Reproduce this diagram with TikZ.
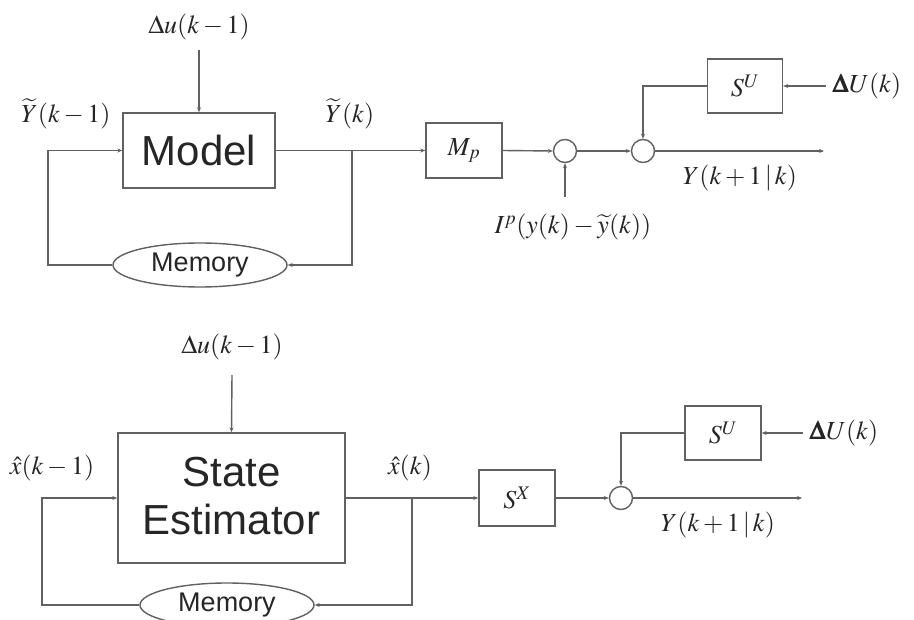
\documentclass[tikz,border=0pt]{standalone}
\usepackage{amsmath}
\usepackage{mathptmx}
\usepackage{fontspec}
\setsansfont{Liberation Sans}
\usetikzlibrary{arrows.meta,shapes.geometric}
\begin{document}
\begin{tikzpicture}[x=1pt,y=-1pt,
  line/.style={draw=black!62,line width=1.4pt},
  arr/.style={line,-{Stealth[length=5pt,width=4pt]}},
  blk/.style={draw=black!62,line width=1.4pt,rectangle,inner sep=0pt},
  sumc/.style={draw=black!62,line width=1.4pt,circle,minimum size=23pt,inner sep=0pt},
  mem/.style={draw=black!62,line width=1.4pt,ellipse,minimum width=174pt,minimum height=44pt,inner sep=0pt,font=\sffamily\fontsize{27}{30}\selectfont,text=black!85},
  lbl/.style={inner sep=0pt,text=black!85,font=\fontsize{26}{30}\selectfont},
  big/.style={font=\sffamily\fontsize{42}{50}\selectfont,text=black!85}]
\useasboundingbox (0,0) rectangle (914,620);
\fill[white] (0,0) rectangle (914,620);

% ---------- top diagram ----------
\node[blk,big,minimum width=152pt,minimum height=75pt] (model) at (199,150.5) {Model};
\node[mem] (mem1) at (200,265) {Memory};
\node[blk,minimum width=76pt,minimum height=55pt,lbl] (mp) at (464,150.5) {$M_p$};
\node[sumc] (s1) at (565,151) {};
\node[sumc] (s2) at (643,151) {};
\node[blk,minimum width=75pt,minimum height=54pt,lbl] (su1) at (745,86) {$S^{U}$};

\node[lbl] (du1) at (199,27) {$\Delta u(k-1)$};
\node[lbl] (yk1) at (66,114) {$\widetilde{Y}(k-1)$};
\node[lbl] (yk) at (350,114) {$\widetilde{Y}(k)$};
\node[lbl] (ip) at (573,227) {$I^{p}(y(k)-\widetilde{y}(k))$};
\node[lbl,anchor=west] (dU1) at (833,86) {$\pmb{\Delta}U(k)$};
\node[lbl] (yo1) at (740,178) {$Y(k+1\,|\,k)$};

\coordinate (du1a) at (199,50);
\coordinate (b1) at (352,150.5);
\coordinate (ipa) at (565,197);
\coordinate (out1) at (824,151);
\coordinate (in1) at (826,86);

\draw[arr] (du1a) -- (model.north);
\draw[arr] (model.east) -- (mp.west);
\draw[arr] (b1) |- (mem1.east);
\draw[arr] (mem1.west) -| (48,150.5) -- (model.west);
\draw[arr] (mp.east) -- (s1.west);
\draw[arr] (ipa) -- (s1.south);
\draw[arr] (s1.east) -- (s2.west);
\draw[arr] (in1) -- (su1.east);
\draw[arr] (su1.west) -| (s2.north);
\draw[arr] (s2.east) -- (out1);

% ---------- bottom diagram ----------
\node[blk,minimum width=227pt,minimum height=130pt] (se) at (231.5,498) {};
\node[big,align=center] at (231.5,496) {State\\[-2pt]Estimator};
\node[mem] (mem2) at (227,605) {Memory};
\node[blk,minimum width=76pt,minimum height=56pt,lbl] (sx) at (517,498) {$S^{X}$};
\node[sumc] (s3) at (621,498) {};
\node[blk,minimum width=76pt,minimum height=54pt,lbl] (su2) at (723,433) {$S^{U}$};

\node[lbl] (du2) at (232,347) {$\Delta u(k-1)$};
\node[lbl] (xk1) at (52,468) {$\hat{x}(k-1)$};
\node[lbl] (xk) at (410,468) {$\hat{x}(k)$};
\node[lbl,anchor=west] (dU2) at (810,433) {$\pmb{\Delta}U(k)$};
\node[lbl] (yo2) at (718,525) {$Y(k+1\,|\,k)$};

\coordinate (du2a) at (232,375);
\coordinate (b2) at (412,498);
\coordinate (out2) at (802,498);
\coordinate (in2) at (803,433);

\draw[arr] (du2a) -- (se.north);
\draw[arr] (se.east) -- (sx.west);
\draw[arr] (b2) |- (mem2.east);
\draw[arr] (mem2.west) -| (42,498) -- (se.west);
\draw[arr] (sx.east) -- (s3.west);
\draw[arr] (in2) -- (su2.east);
\draw[arr] (su2.west) -| (s3.north);
\draw[arr] (s3.east) -- (out2);
\end{tikzpicture}
\end{document}
